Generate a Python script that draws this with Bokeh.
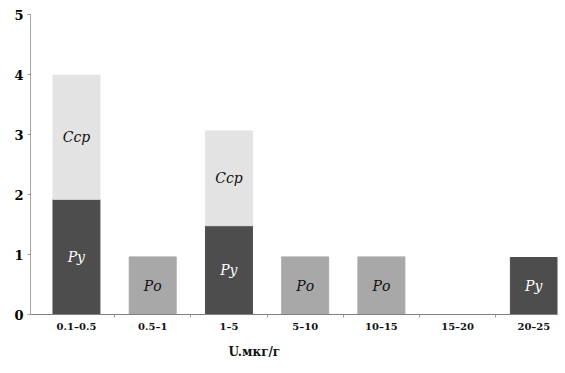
from bokeh.plotting import figure
from bokeh.models import Range1d, FixedTicker, ColumnDataSource, Title
from bokeh.core.properties import value
from bokeh.embed import file_html
from bokeh.resources import INLINE

categories = ["0.1\u20130.5", "0.5\u20131", "1\u20135", "5\u201310", "10\u201315", "15\u201320", "20\u201325"]
ru = [1.92, 0, 1.48, 0, 0, 0, 0.95]      # Ру (dark)
ro = [0, 0.96, 0, 0.96, 0.96, 0, 0]      # Ро (medium)
ssr = [2.07, 0, 1.58, 0, 0, 0, 0]        # Сср (light, stacked on Ру)
series_names = ["Ру", "Ро", "Сср"]
y_ticks = [0, 1, 2, 3, 4, 5]
x_title = "U.мкг/г"

FONT = "DejaVu Serif"

idx = list(range(len(categories)))
colors = ["#4d4d4d", "#a8a8a8", "#e3e3e3"]
text_colors = ["white", "#111111", "#111111"]

p = figure(width=565, height=373, output_backend="svg", toolbar_location=None,
           x_range=Range1d(-0.603, 6.31), y_range=Range1d(0, 5.0),
           min_border_left=30, min_border_right=8, min_border_top=14, min_border_bottom=59)
p.outline_line_color = None
p.xgrid.visible = False
p.ygrid.visible = False
p.background_fill_color = "white"

bw = 0.616
bottoms_ru = [0] * len(idx)
tops_ru = [b + v for b, v in zip(bottoms_ru, ru)]
bottoms_ro = [0] * len(idx)
tops_ro = [b + v for b, v in zip(bottoms_ro, ro)]
bottoms_ssr = tops_ru
tops_ssr = [b + v for b, v in zip(bottoms_ssr, ssr)]

layers = [(bottoms_ru, tops_ru, ru), (bottoms_ro, tops_ro, ro), (bottoms_ssr, tops_ssr, ssr)]
for k, (bot, top, vals) in enumerate(layers):
    xs = [i for i, v in zip(idx, vals) if v > 0]
    bs = [b for b, v in zip(bot, vals) if v > 0]
    ts = [t for t, v in zip(top, vals) if v > 0]
    src = ColumnDataSource(dict(x=xs, bottom=bs, top=ts))
    p.vbar(x="x", bottom="bottom", top="top", width=bw, source=src,
           fill_color=colors[k], line_color=colors[k], line_width=1)

for k, (bot, top, vals) in enumerate(layers):
    xs = [i for i, v in zip(idx, vals) if v > 0]
    ys = [(b + t) / 2 for b, t, v in zip(bot, top, vals) if v > 0]
    src = ColumnDataSource(dict(x=xs, y=ys, t=[series_names[k]] * len(xs)))
    p.text(x="x", y="y", text="t", source=src, text_align="center", text_baseline="middle",
           text_font=value(FONT), text_font_style="italic",
           text_font_size="14px", text_color=text_colors[k])

# x axis
p.xaxis.ticker = FixedTicker(ticks=idx, minor_ticks=[i + 0.5 for i in idx[:-1]])
p.xaxis.major_label_overrides = {i: c for i, c in zip(idx, categories)}
p.xaxis.major_tick_line_color = None
p.xaxis.major_tick_out = 0
p.xaxis.major_tick_in = 0
p.xaxis.minor_tick_out = 3
p.xaxis.minor_tick_in = 0
p.xaxis.minor_tick_line_color = "#999999"
p.xaxis.axis_line_color = "#808080"
p.xaxis.major_label_text_font = FONT
p.xaxis.major_label_text_font_style = "bold"
p.xaxis.major_label_text_font_size = "10px"
p.xaxis.major_label_text_color = "#111111"
p.xaxis.major_label_standoff = 3

# y axis
p.yaxis.ticker = FixedTicker(ticks=y_ticks)
p.yaxis.minor_tick_line_color = None
p.yaxis.major_tick_out = 3
p.yaxis.major_tick_in = 0
p.yaxis.major_tick_line_color = "#999999"
p.yaxis.axis_line_color = "#a6a6a6"
p.yaxis.major_label_text_font = FONT
p.yaxis.major_label_text_font_style = "bold"
p.yaxis.major_label_text_font_size = "13px"
p.yaxis.major_label_text_color = "#000000"
p.yaxis.major_label_standoff = 4

p.add_layout(Title(text=x_title, align="left", offset=198, standoff=16,
                   text_font=FONT, text_font_style="bold",
                   text_font_size="12px", text_color="#111111"), "below")

open("out.html", "w").write(file_html(p, INLINE))
